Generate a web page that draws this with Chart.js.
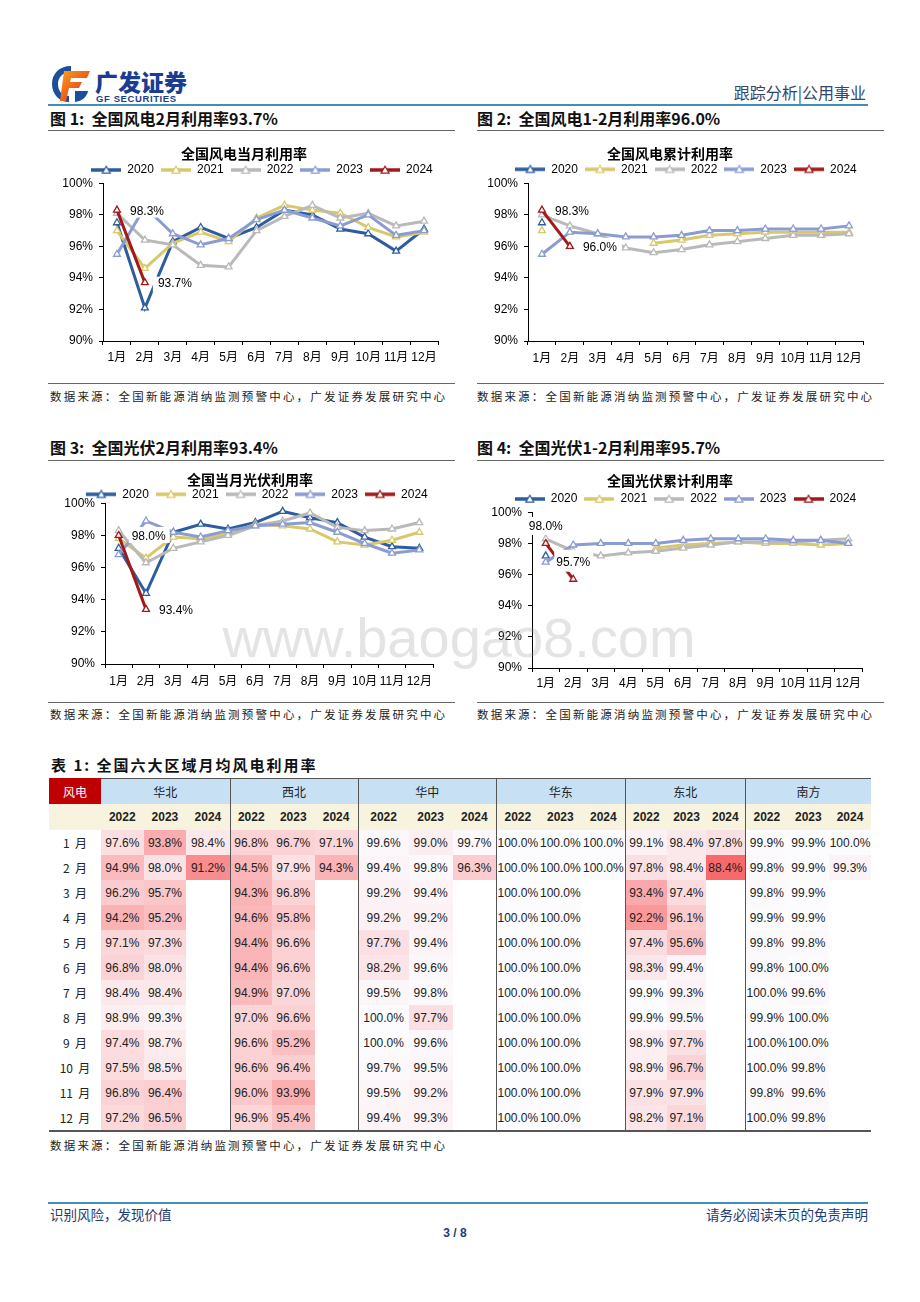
<!DOCTYPE html>
<html lang="zh-CN">
<head>
<meta charset="utf-8">
<title>跟踪分析 | 公用事业</title>
<script src="https://cdn.jsdelivr.net/npm/chart.js@4.4.1/dist/chart.umd.min.js"></script>
<style>
  body { margin: 0; background: #fff; font-family: 'Liberation Sans', 'Noto Sans CJK SC', sans-serif; color: #111; }
  #page { position: relative; width: 920px; height: 1302px; overflow: hidden; }
  .t { position: absolute; white-space: nowrap; }
  .rule { position: absolute; height: 0; border-top: 1px solid #666; }
  .bar { position: absolute; height: 2px; background: #3f8fba; }
  .figt { font-family: 'Noto Sans CJK SC', sans-serif; font-weight: bold; font-size: 16px; line-height: 20px; height: 20px; }
  .src { font-family: 'Noto Sans CJK SC', sans-serif; font-size: 11.5px; line-height: 16px; letter-spacing: 2.2px; color: #222; }
  .box { position: absolute; }
  #wm { position: absolute; left: 0; width: 918px; top: 610px; text-align: center; font-size: 56px; line-height: 56px;
        color: rgba(150,150,150,0.26); pointer-events: none; font-family: 'Liberation Sans', sans-serif; }
  table { position: absolute; left: 49px; top: 778px; border-collapse: separate; border-spacing: 0; table-layout: fixed; width: 822px;
          font-size: 12px; color: #222; }
  td { padding: 0; text-align: center; white-space: pre; overflow: visible; height: 25px; }
  tr.h1 td { height: 25px; background: #c8e0f4; border-top: 1px solid #555; font-family: 'Noto Sans CJK SC', sans-serif; }
  tr.h1 td.corner { background: #c00000; color: #fff; border-top: none; }
  tr.h2 td { height: 26px; background: #f7f3de; font-weight: bold; }
  td.m { font-family: 'Noto Sans CJK SC', sans-serif; }
  td.g { border-left: 1px solid #555; }
  tr.last td { border-bottom: 2px solid #555; }
</style>
</head>
<body>
<div id="page">
  <!-- 页眉 -->
  <svg class="box" style="left:49px;top:63px" width="44" height="42" viewBox="0 0 44 42">
    <defs><linearGradient id="og" x1="0" y1="0" x2="1" y2="1"><stop offset="0" stop-color="#f7a21b"/><stop offset="1" stop-color="#e2231a"/></linearGradient></defs>
    <path d="M22 3 C10 3 3 11 3 21 C3 31 10 39 20 39 L20 33 C13 33 9 28 9 21 C9 14 14 9 22 9 Z" fill="#1b4f9c"/>
    <path d="M15 8 L41 8 L38 15 L22 15 L21 19 L33 19 L30 25 L20 25 L17 38 L11 38 Z" fill="url(#og)"/>
    <path d="M26 28 L39 28 C38 34 33 38 26 39 Z" fill="#1b4f9c"/>
  </svg>
  <div class="t" style="left:95px;top:68px;font-size:23px;line-height:26px;font-weight:900;color:#1b3d91;font-family:'Noto Sans CJK SC',sans-serif">广发证券</div>
  <div class="t" style="left:96px;top:93px;font-size:9.5px;line-height:11px;font-weight:bold;color:#1b3d91;letter-spacing:0.6px">GF SECURITIES</div>
  <div class="t" style="right:54px;top:82px;font-size:16px;line-height:20px;color:#34466a;font-family:'Noto Sans CJK SC',sans-serif">跟踪分析|公用事业</div>
  <div class="bar" style="left:48px;top:104px;width:820px"></div>

  <!-- 第一行 -->
  <div class="t figt" style="left:50px;top:108px">图 1:&nbsp; 全国风电2月利用率93.7%</div>
  <div class="t figt" style="left:477px;top:108px">图 2:&nbsp; 全国风电1-2月利用率96.0%</div>
  <div class="rule" style="left:48px;top:130px;width:407px"></div>
  <div class="rule" style="left:477px;top:130px;width:407px"></div>
  <div class="box" style="left:53px;top:140px;width:391px;height:227px"><canvas id="c1"></canvas></div>
  <div class="box" style="left:478px;top:140px;width:391px;height:227px"><canvas id="c2"></canvas></div>
  <div class="rule" style="left:48px;top:383px;width:407px"></div>
  <div class="rule" style="left:477px;top:383px;width:407px"></div>
  <div class="t src" style="left:50px;top:388px">数据来源：全国新能源消纳监测预警中心，广发证券发展研究中心</div>
  <div class="t src" style="left:477px;top:388px">数据来源：全国新能源消纳监测预警中心，广发证券发展研究中心</div>

  <!-- 第二行 -->
  <div class="t figt" style="left:50px;top:437px">图 3:&nbsp; 全国光伏2月利用率93.4%</div>
  <div class="t figt" style="left:477px;top:437px">图 4:&nbsp; 全国光伏1-2月利用率95.7%</div>
  <div class="rule" style="left:48px;top:460px;width:407px"></div>
  <div class="rule" style="left:477px;top:460px;width:407px"></div>
  <div class="box" style="left:55px;top:465px;width:384px;height:225px"><canvas id="c3"></canvas></div>
  <div class="box" style="left:482px;top:465px;width:386px;height:229px"><canvas id="c4"></canvas></div>
  <div class="rule" style="left:48px;top:702px;width:407px"></div>
  <div class="rule" style="left:477px;top:702px;width:407px"></div>
  <div class="t src" style="left:50px;top:706px">数据来源：全国新能源消纳监测预警中心，广发证券发展研究中心</div>
  <div class="t src" style="left:477px;top:706px">数据来源：全国新能源消纳监测预警中心，广发证券发展研究中心</div>

  <!-- 表1 -->
  <div class="t" style="left:51px;top:755px;font-size:15px;line-height:20px;font-weight:bold;letter-spacing:2px;font-family:'Noto Sans CJK SC',sans-serif">表 1:&nbsp;全国六大区域月均风电利用率</div>
  <table id="tbl"></table>
  <div class="t src" style="left:50px;top:1137px">数据来源：全国新能源消纳监测预警中心，广发证券发展研究中心</div>

  <!-- 页脚 -->
  <div class="bar" style="left:48px;top:1202px;width:820px"></div>
  <div class="t" style="left:50px;top:1205px;font-size:13.5px;line-height:18px;color:#1f3b73;font-family:'Noto Sans CJK SC',sans-serif">识别风险，发现价值</div>
  <div class="t" style="right:52px;top:1205px;font-size:13.5px;line-height:18px;color:#1f3b73;font-family:'Noto Sans CJK SC',sans-serif">请务必阅读末页的免责声明</div>
  <div class="t" style="left:425px;width:60px;text-align:center;top:1225px;font-size:12px;line-height:16px;font-weight:bold;color:#1f3b73">3 / 8</div>

  <div id="wm">www.baogao8.com</div>
</div>

<script>
// 公共：月份、年份、颜色
const months = ['1月', '2月', '3月', '4月', '5月', '6月', '7月', '8月', '9月', '10月', '11月', '12月'];
const years = ['2020', '2021', '2022', '2023', '2024'];
const colors = ['#2e5d9f', '#d9c86b', '#b9b9b9', '#8b9cd2', '#a3191a'];
const yTicks = [90, 92, 94, 96, 98, 100];

// 图1 全国风电当月利用率 (%)
const windMonth2020 = [97.5, 92.1, 96.3, 97.2, 96.5, 97.2, 98.3, 98.0, 97.1, 96.8, 95.7, 97.1];
const windMonth2021 = [97.0, 94.6, 96.2, 96.9, 96.3, 97.8, 98.6, 98.3, 98.1, 97.2, 96.6, 96.9];
const windMonth2022 = [98.1, 96.4, 96.1, 94.8, 94.7, 97.0, 97.9, 98.6, 97.8, 98.1, 97.3, 97.6];
const windMonth2023 = [95.5, 98.5, 96.8, 96.1, 96.5, 97.7, 98.3, 97.8, 97.3, 98.0, 96.7, 97.0];
const windMonth2024 = [98.3, 93.7, null, null, null, null, null, null, null, null, null, null];

// 图2 全国风电累计利用率 (%)
const windCum2020 = [97.5, null, null, null, null, null, null, null, null, null, null, null];
const windCum2021 = [97.0, null, null, null, 96.2, 96.4, 96.7, 96.8, 96.9, 96.9, 96.9, 96.9];
const windCum2022 = [98.0, 97.3, 96.8, 95.9, 95.6, 95.8, 96.1, 96.3, 96.5, 96.7, 96.7, 96.8];
const windCum2023 = [95.5, 96.9, 96.8, 96.6, 96.6, 96.7, 97.0, 97.0, 97.1, 97.1, 97.1, 97.3];
const windCum2024 = [98.3, 96.0, null, null, null, null, null, null, null, null, null, null];

// 图3 全国当月光伏利用率 (%)
const pvMonth2020 = [97.2, 94.4, 98.2, 98.7, 98.4, 98.8, 99.5, 99.1, 98.8, 97.9, 97.3, 97.2];
const pvMonth2021 = [97.8, 96.6, 97.9, 97.8, 98.1, 98.7, 98.6, 98.4, 97.6, 97.4, 97.7, 98.2];
const pvMonth2022 = [98.3, 96.3, 97.2, 97.6, 98.0, 98.6, 98.9, 99.4, 98.5, 98.3, 98.4, 98.8];
const pvMonth2023 = [96.8, 98.9, 98.2, 97.9, 98.3, 98.6, 98.7, 98.8, 98.2, 97.5, 96.9, 97.1];
const pvMonth2024 = [98.0, 93.4, null, null, null, null, null, null, null, null, null, null];

// 图4 全国光伏累计利用率 (%)
const pvCum2020 = [97.2, null, null, null, null, null, null, null, null, null, null, null];
const pvCum2021 = [null, null, null, null, 97.7, 97.9, 98.0, 98.1, 98.0, 98.0, 97.9, 98.0];
const pvCum2022 = [98.3, 97.5, 97.2, 97.4, 97.5, 97.7, 97.9, 98.1, 98.1, 98.1, 98.2, 98.3];
const pvCum2023 = [96.8, 97.9, 98.0, 98.0, 98.0, 98.2, 98.3, 98.3, 98.3, 98.2, 98.2, 98.0];
const pvCum2024 = [98.0, 95.7, null, null, null, null, null, null, null, null, null, null];

// 表1 六大区域月均风电利用率 (%)
const regions = ['华北', '西北', '华中', '华东', '东北', '南方'];
const tableYears = ['2022', '2023', '2024'];
const rowMonths = ['1 月', '2 月', '3 月', '4 月', '5 月', '6 月', '7 月', '8 月', '9 月', '10 月', '11 月', '12 月'];
const huabei2022 = [97.6, 94.9, 96.2, 94.2, 97.1, 96.8, 98.4, 98.9, 97.4, 97.5, 96.8, 97.2];
const huabei2023 = [93.8, 98.0, 95.7, 95.2, 97.3, 98.0, 98.4, 99.3, 98.7, 98.5, 96.4, 96.5];
const huabei2024 = [98.4, 91.2];
const xibei2022 = [96.8, 94.5, 94.3, 94.6, 94.4, 94.4, 94.9, 97.0, 96.6, 96.6, 96.0, 96.9];
const xibei2023 = [96.7, 97.9, 96.8, 95.8, 96.6, 96.6, 97.0, 96.6, 95.2, 96.4, 93.9, 95.4];
const xibei2024 = [97.1, 94.3];
const huazhong2022 = [99.6, 99.4, 99.2, 99.2, 97.7, 98.2, 99.5, 100.0, 100.0, 99.7, 99.5, 99.4];
const huazhong2023 = [99.0, 99.8, 99.4, 99.2, 99.4, 99.6, 99.8, 97.7, 99.6, 99.5, 99.2, 99.3];
const huazhong2024 = [99.7, 96.3];
const huadong2022 = [100.0, 100.0, 100.0, 100.0, 100.0, 100.0, 100.0, 100.0, 100.0, 100.0, 100.0, 100.0];
const huadong2023 = [100.0, 100.0, 100.0, 100.0, 100.0, 100.0, 100.0, 100.0, 100.0, 100.0, 100.0, 100.0];
const huadong2024 = [100.0, 100.0];
const dongbei2022 = [99.1, 97.8, 93.4, 92.2, 97.4, 98.3, 99.9, 99.9, 98.9, 98.9, 97.9, 98.2];
const dongbei2023 = [98.4, 98.4, 97.4, 96.1, 95.6, 99.4, 99.3, 99.5, 97.7, 96.7, 97.9, 97.1];
const dongbei2024 = [97.8, 88.4];
const nanfang2022 = [99.9, 99.8, 99.8, 99.9, 99.8, 99.8, 100.0, 99.9, 100.0, 100.0, 99.8, 100.0];
const nanfang2023 = [99.9, 99.9, 99.9, 99.9, 99.8, 100.0, 99.6, 100.0, 100.0, 99.8, 99.6, 99.8];
const nanfang2024 = [100.0, 99.3];

const regionData = [
  [huabei2022, huabei2023, huabei2024],
  [xibei2022, xibei2023, xibei2024],
  [huazhong2022, huazhong2023, huazhong2024],
  [huadong2022, huadong2023, huadong2024],
  [dongbei2022, dongbei2023, dongbei2024],
  [nanfang2022, nanfang2023, nanfang2024]
];
const colWidths = [52, 42.6, 42.7, 43.3, 42.4, 42.6, 43, 51, 44, 43.4, 42.6, 43.4, 42.6, 42.4, 39, 38.6, 43.4, 40.6, 42.7];

Chart.defaults.font.family = "'Liberation Sans', 'Noto Sans CJK SC', sans-serif";
Chart.defaults.color = '#000';

// 图例：线段 + 三角
function legendIcon(color) {
  const c = document.createElement('canvas');
  c.width = 30; c.height = 10;
  const g = c.getContext('2d');
  g.strokeStyle = color;
  g.lineWidth = 3.5;
  g.beginPath(); g.moveTo(0, 5); g.lineTo(30, 5); g.stroke();
  g.beginPath(); g.moveTo(15, 1.2); g.lineTo(19, 8.2); g.lineTo(11, 8.2); g.closePath();
  g.fillStyle = '#fff'; g.fill();
  g.lineWidth = 1.2; g.stroke();
  return c;
}
const icons = colors.map(legendIcon);

// 标题/图例水平微调
const nudge = {
  id: 'nudge',
  afterLayout(chart, args, opts) {
    if (opts.title && chart.titleBlock) { chart.titleBlock.left += opts.title; chart.titleBlock.right += opts.title; }
    if (opts.legend && chart.legend) { chart.legend.left += opts.legend; chart.legend.right += opts.legend; }
  }
};

// 数据标签（白底）
const tags = {
  id: 'tags',
  afterDatasetsDraw(chart, args, opts) {
    const ctx = chart.ctx;
    ctx.save();
    ctx.font = "12px 'Liberation Sans', Arial, sans-serif";
    ctx.textBaseline = 'middle';
    (opts.items || []).forEach(it => {
      const pt = chart.getDatasetMeta(it.ds).data[it.i];
      const text = chart.data.datasets[it.ds].data[it.i].toFixed(1) + '%';
      const w = ctx.measureText(text).width;
      const x = it.pos === 'top' ? pt.x - w / 2 : pt.x + 13;
      const y = it.pos === 'top' ? pt.y - 16.5 : pt.y + 1.5;
      const p = Object.assign({ l: 3, r: 3, t: 11, b: 7 }, it.pad);
      ctx.fillStyle = '#fff';
      ctx.fillRect(x - p.l, y - p.t, w + p.l + p.r, p.t + p.b);
      ctx.fillStyle = '#000';
      ctx.fillText(text, x, y);
    });
    ctx.restore();
  }
};

function makeChart(id, cfg) {
  const datasets = years.map((y, k) => ({
    label: y,
    data: cfg.series[k],
    borderColor: colors[k],
    backgroundColor: '#fff',
    borderWidth: 3,
    pointStyle: 'triangle',
    pointRadius: 4,
    pointBorderWidth: 1.3,
    pointBackgroundColor: '#fff',
    pointBorderColor: colors[k],
    order: years.length - 1 - k,
    spanGaps: false
  }));
  return new Chart(document.getElementById(id), {
    type: 'line',
    data: { labels: months, datasets: datasets },
    options: {
      responsive: true,
      maintainAspectRatio: false,
      animation: false,
      events: [],
      layout: { padding: { left: 0, right: 6, top: 0, bottom: 0 } },
      plugins: {
        title: {
          display: true, text: cfg.title, color: '#000',
          font: { size: 14, weight: 'bold', family: "'Noto Sans CJK SC', sans-serif" },
          padding: { top: cfg.tp, bottom: cfg.tb }
        },
        legend: {
          maxHeight: cfg.lh,
          labels: {
            usePointStyle: true, pointStyleWidth: 30, padding: 7, color: '#000',
            font: { size: 12 },
            sort: (a, b) => a.datasetIndex - b.datasetIndex,
            generateLabels: chart => Chart.defaults.plugins.legend.labels.generateLabels(chart).map(item => {
              item.pointStyle = icons[item.datasetIndex];
              return item;
            })
          }
        },
        tooltip: { enabled: false },
        nudge: { title: cfg.dxTitle, legend: cfg.dxLegend },
        tags: { items: cfg.tags }
      },
      scales: {
        x: {
          offset: true,
          grid: { offset: true, drawOnChartArea: false, tickLength: 4, color: '#000' },
          border: { color: '#000' },
          ticks: { autoSkip: false, maxRotation: 0, padding: cfg.xpad, color: '#000', font: { size: 12 } },
          afterFit: s => { s.height = 26; }
        },
        y: {
          min: yTicks[0], max: yTicks[yTicks.length - 1],
          grid: { drawOnChartArea: false, tickLength: 4, color: '#000' },
          border: { color: '#000' },
          ticks: { stepSize: yTicks[1] - yTicks[0], padding: 6, color: '#000', font: { size: 12 }, callback: v => v + '%' },
          afterFit: s => { s.width = 50; }
        }
      }
    },
    plugins: [nudge, tags]
  });
}

makeChart('c1', {
  title: '全国风电当月利用率',
  series: [windMonth2020, windMonth2021, windMonth2022, windMonth2023, windMonth2024],
  tp: 5.6, tb: -5.4, lh: 26.3, xpad: 5.8, dxTitle: -1.5, dxLegend: 16.5,
  tags: [{ ds: 4, i: 0, pad: { t: 10, b: 6 } }, { ds: 4, i: 1, pad: { l: 5, t: 7.5, b: 11 } }]
});
makeChart('c2', {
  title: '全国风电累计利用率',
  series: [windCum2020, windCum2021, windCum2022, windCum2023, windCum2024],
  tp: 5.6, tb: -6.1, lh: 27, xpad: 6.1, dxTitle: -0.5, dxLegend: 15.5,
  tags: [{ ds: 4, i: 0, pad: { t: 10, b: 6 } }, { ds: 4, i: 1, pad: { t: 10, b: 6, r: 5 } }]
});
makeChart('c3', {
  title: '全国当月光伏利用率',
  series: [pvMonth2020, pvMonth2021, pvMonth2022, pvMonth2023, pvMonth2024],
  tp: 6.6, tb: -7.1, lh: 22, xpad: 6.2, dxTitle: 6, dxLegend: 13,
  tags: [{ ds: 4, i: 0, pad: { t: 10, b: 6, r: 4 } }, { ds: 4, i: 1, pad: { t: 10, b: 6 } }]
});
makeChart('c4', {
  title: '全国光伏累计利用率',
  series: [pvCum2020, pvCum2021, pvCum2022, pvCum2023, pvCum2024],
  tp: 7.6, tb: -3.4, lh: 26.3, xpad: 4.5, dxTitle: -2, dxLegend: 13.5,
  tags: [{ ds: 4, i: 0, pos: 'top', pad: { t: 10, b: 8 } }, { ds: 4, i: 1, pos: 'top', pad: { l: 2, t: 13, b: 9 } }]
});

// 表1：热力色（低值红、高值白）
const allVals = regionData.flat(2);
const vMin = Math.min(...allVals), vMax = Math.max(...allVals);
function heat(v) {
  const t = (vMax - v) / (vMax - vMin);
  const lo = [252, 252, 255], hi = [248, 105, 107];
  const c = lo.map((a, k) => Math.round(a + (hi[k] - a) * t));
  return `rgb(${c[0]},${c[1]},${c[2]})`;
}

function buildTable() {
  const tbl = document.getElementById('tbl');
  let html = '<colgroup>' + colWidths.map(w => `<col style="width:${w}px">`).join('') + '</colgroup>';
  html += '<tr class="h1"><td class="corner m">风电</td>' +
    regions.map((r, k) => `<td colspan="3" class="${k > 0 ? 'g' : ''}">${r}</td>`).join('') + '</tr>';
  html += '<tr class="h2"><td></td>' +
    regions.map((r, k) => tableYears.map((y, j) => `<td class="${k > 0 && j === 0 ? 'g' : ''}">${y}</td>`).join('')).join('') + '</tr>';
  rowMonths.forEach((m, i) => {
    html += `<tr class="${i === rowMonths.length - 1 ? 'last' : ''}"><td class="m">${m.replace(' ', '&nbsp;&nbsp;')}</td>`;
    regionData.forEach((cols, k) => {
      cols.forEach((arr, j) => {
        const v = arr[i];
        const cls = k > 0 && j === 0 ? 'g' : '';
        if (v === undefined || v === null) html += `<td class="${cls}"></td>`;
        else html += `<td class="${cls}" style="background:${heat(v)}">${v.toFixed(1)}%</td>`;
      });
    });
    html += '</tr>';
  });
  tbl.innerHTML = html;
}
buildTable();
</script>
</body>
</html>
